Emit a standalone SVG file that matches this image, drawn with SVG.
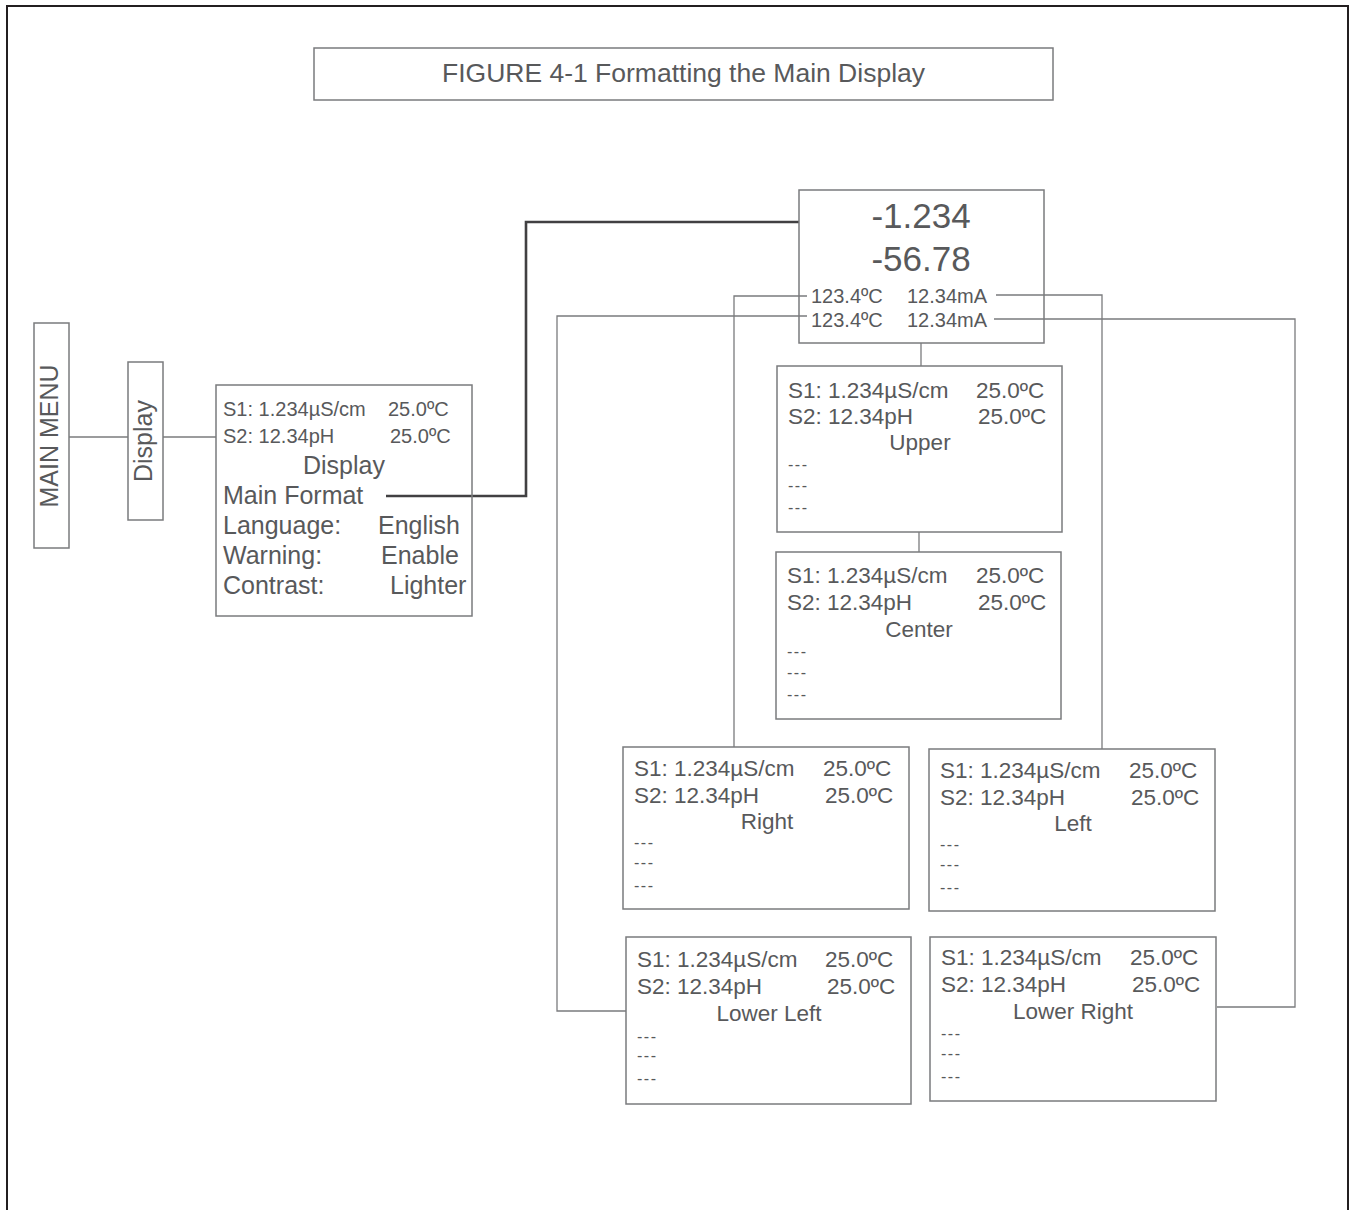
<svg xmlns="http://www.w3.org/2000/svg" width="1355" height="1210" viewBox="0 0 1355 1210">
<style>
  text { font-family: "Liberation Sans", Arial, sans-serif; fill: #58595b; }
  .box { fill: none; stroke: #7a7b7d; stroke-width: 1.5; }
  .frame { fill: none; stroke: #231f20; stroke-width: 2; }
  .conn { fill: none; stroke: #7a7b7d; stroke-width: 1.3; }
  .thick { fill: none; stroke: #414042; stroke-width: 2.6; }
  .t20 { font-size: 20px; }
  .t22 { font-size: 22.5px; }
  .t25 { font-size: 25px; }
  .t35 { font-size: 35px; }
  .dash { font-size: 16px; letter-spacing: 1.5px; }
  .mid { text-anchor: middle; }
</style>

<path class="frame" d="M7,1212 V6 H1348 V1212"/>

<g id="title">
  <rect class="box" x="314" y="48" width="739" height="52"/>
  <text x="683.5" y="82" class="mid" style="font-size:26.5px">FIGURE 4-1 Formatting the Main Display</text>
</g>

<g id="connectors">
  <line class="conn" x1="69" y1="437" x2="128" y2="437"/>
  <line class="conn" x1="163" y1="437" x2="216" y2="437"/>
  <polyline class="thick" points="386,496 526,496 526,222 799,222"/>
  <line class="conn" x1="921" y1="343" x2="921" y2="366"/>
  <line class="conn" x1="919" y1="532" x2="919" y2="552"/>
  <polyline class="conn" points="807,296 734,296 734,747"/>
  <polyline class="conn" points="996,295 1102,295 1102,749"/>
  <polyline class="conn" points="807,316 557,316 557,1011 626,1011"/>
  <polyline class="conn" points="994,319 1295,319 1295,1007 1217,1007"/>
</g>

<g id="main-menu">
  <rect class="box" x="34" y="323" width="35" height="225"/>
  <text class="t25 mid" transform="translate(58,436) rotate(-90)">MAIN MENU</text>
</g>

<g id="display">
  <rect class="box" x="128" y="362" width="35" height="158"/>
  <text class="t25 mid" transform="translate(152,441) rotate(-90)">Display</text>
</g>

<g id="display-menu">
  <rect class="box" x="216" y="385" width="256" height="231"/>
  <text class="t20" x="223" y="416">S1: 1.234µS/cm</text>
  <text class="t20" x="388" y="416">25.0ºC</text>
  <text class="t20" x="223" y="443">S2: 12.34pH</text>
  <text class="t20" x="390" y="443">25.0ºC</text>
  <text class="t25 mid" x="344" y="474">Display</text>
  <text class="t25" x="223" y="504">Main Format</text>
  <text class="t25" x="223" y="534">Language:</text>
  <text class="t25" x="378" y="534">English</text>
  <text class="t25" x="223" y="564">Warning:</text>
  <text class="t25" x="381" y="564">Enable</text>
  <text class="t25" x="223" y="594">Contrast:</text>
  <text class="t25" x="390" y="594">Lighter</text>
</g>

<g id="main-display">
  <rect class="box" x="799" y="190" width="245" height="153"/>
  <text class="t35 mid" x="921" y="228">-1.234</text>
  <text class="t35 mid" x="921" y="271">-56.78</text>
  <text class="t20" x="811" y="303">123.4ºC</text>
  <text class="t20" x="907" y="303">12.34mA</text>
  <text class="t20" x="811" y="327">123.4ºC</text>
  <text class="t20" x="907" y="327">12.34mA</text>
</g>

<g id="upper">
  <rect class="box" x="777" y="366" width="285" height="166"/>
  <text class="t22" x="788" y="398">S1: 1.234µS/cm</text>
  <text class="t22" x="976" y="398">25.0ºC</text>
  <text class="t22" x="788" y="424">S2: 12.34pH</text>
  <text class="t22" x="978" y="424">25.0ºC</text>
  <text class="t22 mid" x="920" y="450">Upper</text>
  <text class="dash" x="788" y="470">---</text>
  <text class="dash" x="788" y="491">---</text>
  <text class="dash" x="788" y="513">---</text>
</g>

<g id="center">
  <rect class="box" x="776" y="552" width="285" height="167"/>
  <text class="t22" x="787" y="583">S1: 1.234µS/cm</text>
  <text class="t22" x="976" y="583">25.0ºC</text>
  <text class="t22" x="787" y="610">S2: 12.34pH</text>
  <text class="t22" x="978" y="610">25.0ºC</text>
  <text class="t22 mid" x="919" y="637">Center</text>
  <text class="dash" x="787" y="657">---</text>
  <text class="dash" x="787" y="678">---</text>
  <text class="dash" x="787" y="700">---</text>
</g>

<g id="right">
  <rect class="box" x="623" y="747" width="286" height="162"/>
  <text class="t22" x="634" y="776">S1: 1.234µS/cm</text>
  <text class="t22" x="823" y="776">25.0ºC</text>
  <text class="t22" x="634" y="803">S2: 12.34pH</text>
  <text class="t22" x="825" y="803">25.0ºC</text>
  <text class="t22 mid" x="767" y="829">Right</text>
  <text class="dash" x="634" y="848">---</text>
  <text class="dash" x="634" y="868">---</text>
  <text class="dash" x="634" y="891">---</text>
</g>

<g id="left">
  <rect class="box" x="929" y="749" width="286" height="162"/>
  <text class="t22" x="940" y="778">S1: 1.234µS/cm</text>
  <text class="t22" x="1129" y="778">25.0ºC</text>
  <text class="t22" x="940" y="805">S2: 12.34pH</text>
  <text class="t22" x="1131" y="805">25.0ºC</text>
  <text class="t22 mid" x="1073" y="831">Left</text>
  <text class="dash" x="940" y="850">---</text>
  <text class="dash" x="940" y="870">---</text>
  <text class="dash" x="940" y="893">---</text>
</g>

<g id="lower-left">
  <rect class="box" x="626" y="937" width="285" height="167"/>
  <text class="t22" x="637" y="967">S1: 1.234µS/cm</text>
  <text class="t22" x="825" y="967">25.0ºC</text>
  <text class="t22" x="637" y="994">S2: 12.34pH</text>
  <text class="t22" x="827" y="994">25.0ºC</text>
  <text class="t22 mid" x="769" y="1021">Lower Left</text>
  <text class="dash" x="637" y="1042">---</text>
  <text class="dash" x="637" y="1061">---</text>
  <text class="dash" x="637" y="1084">---</text>
</g>

<g id="lower-right">
  <rect class="box" x="930" y="937" width="286" height="164"/>
  <text class="t22" x="941" y="965">S1: 1.234µS/cm</text>
  <text class="t22" x="1130" y="965">25.0ºC</text>
  <text class="t22" x="941" y="992">S2: 12.34pH</text>
  <text class="t22" x="1132" y="992">25.0ºC</text>
  <text class="t22 mid" x="1073" y="1019">Lower Right</text>
  <text class="dash" x="941" y="1039">---</text>
  <text class="dash" x="941" y="1059">---</text>
  <text class="dash" x="941" y="1082">---</text>
</g>
</svg>
